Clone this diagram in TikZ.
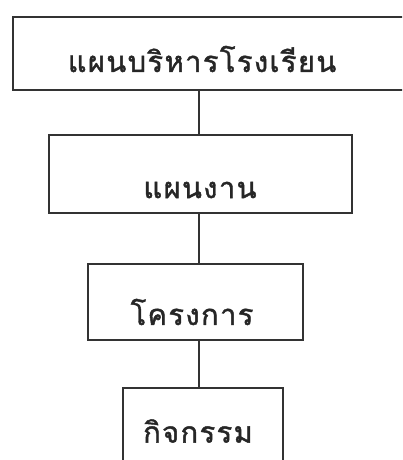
\documentclass[tikz,border=0pt]{standalone}
\usepackage{fontspec}
\newfontfamily\thaifont[Script=Thai,LetterSpace=5,FakeBold=1.5]{Loma}
\begin{document}
\begin{tikzpicture}[x=1pt,y=1pt,
  box/.style={draw=black!80,line width=1.4pt,inner sep=0pt,rectangle},
  lbl/.style={font=\thaifont\fontsize{29}{32}\selectfont,inner sep=0pt,text=black!85},
  conn/.style={draw=black!80,line width=1.2pt}]
\clip (0,0) rectangle (402,460);
\fill[white] (0,0) rectangle (402,460);
\node[box,minimum width=397pt,minimum height=73pt] (b1) at (211.5,406.5) {};
\node[box,minimum width=303pt,minimum height=78pt] (b2) at (200.5,286) {};
\node[box,minimum width=215pt,minimum height=76pt] (b3) at (195.5,158) {};
\node[box,minimum width=160pt,minimum height=82pt] (b4) at (203,31) {};
\node[lbl] (t1) at (202,401) {แผนบริหารโรงเรียน};
\node[lbl] (t2) at (200,270) {แผนงาน};
\node[lbl] (t3) at (192,148) {โครงการ};
\node[lbl] (t4) at (198,29) {กิจกรรม};
\coordinate (cx) at (199,0);
\draw[conn] (cx |- b1.south) -- (cx |- b2.north);
\draw[conn] (cx |- b2.south) -- (cx |- b3.north);
\draw[conn] (cx |- b3.south) -- (cx |- b4.north);
\end{tikzpicture}
\end{document}
